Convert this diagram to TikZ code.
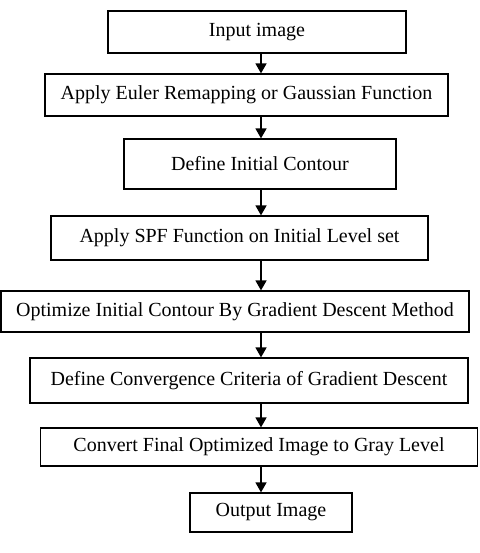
\documentclass[tikz,border=0pt]{standalone}
\usepackage{fontspec}
\setmainfont{Liberation Serif}
\usetikzlibrary{arrows.meta}
\begin{document}
\begin{tikzpicture}[x=1pt,y=-1pt,
  stepbox/.style={draw, line width=1.2pt, inner sep=0pt, font=\fontsize{20}{23}\selectfont},
  arr/.style={line width=1.5pt, -{Triangle[width=11pt,length=10pt]}}]
\useasboundingbox (0,0) rectangle (479,553);
\node[stepbox, minimum width=298, minimum height=42] (b1) at (257,32) {Input image};
\node[stepbox, minimum width=403, minimum height=42] (b2) at (246.5,95) {Apply Euler Remapping or Gaussian Function};
\node[stepbox, minimum width=272, minimum height=50] (b3) at (260,164) {Define Initial Contour};
\node[stepbox, minimum width=377, minimum height=44] (b4) at (239.5,238) {Apply SPF Function on Initial Level set};
\node[stepbox, minimum width=468, minimum height=41] (b5) at (235,311.5) {Optimize Initial Contour By Gradient Descent Method};
\node[stepbox, minimum width=438, minimum height=45] (b6) at (249,380.5) {Define Convergence Criteria of Gradient Descent};
\node[stepbox, minimum width=437, minimum height=38] (b7) at (259,447) {Convert Final Optimized Image to Gray Level};
\node[stepbox, minimum width=162, minimum height=39] (b8) at (271,512.5) {Output Image};
\coordinate (ax) at (261,0);
\foreach \a/\b in {b1/b2,b2/b3,b3/b4,b4/b5,b5/b6,b6/b7,b7/b8}
  \draw[arr] (\a.south -| ax) -- (\b.north -| ax);
\end{tikzpicture}
\end{document}
